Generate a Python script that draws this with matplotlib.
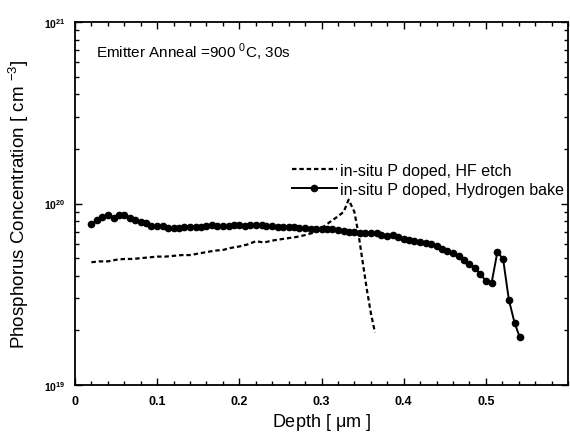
import matplotlib
matplotlib.use("Agg")
import matplotlib.pyplot as plt
from matplotlib.ticker import LogLocator, MultipleLocator, FixedLocator, NullFormatter

plt.rcParams['font.family'] = ['Liberation Sans', 'DejaVu Sans']
plt.rcParams['mathtext.fontset'] = 'custom'
plt.rcParams['mathtext.rm'] = 'Liberation Sans'
plt.rcParams['mathtext.bf'] = 'Liberation Sans:bold'

# Hydrogen bake (solid with markers), concentration in 1e19 cm^-3
h2_depth = [0.020, 0.027, 0.033, 0.040, 0.047, 0.053, 0.060, 0.067, 0.073, 0.080,
            0.087, 0.093, 0.100, 0.107, 0.113, 0.120, 0.127, 0.133, 0.140, 0.147,
            0.153, 0.160, 0.167, 0.173, 0.180, 0.187, 0.193, 0.200, 0.207, 0.213,
            0.220, 0.227, 0.233, 0.240, 0.247, 0.253, 0.260, 0.267, 0.273, 0.280,
            0.287, 0.293, 0.300, 0.307, 0.313, 0.320, 0.327, 0.333, 0.340, 0.347,
            0.353, 0.360, 0.367, 0.373, 0.380, 0.387, 0.393, 0.400, 0.407, 0.413,
            0.420, 0.427, 0.433, 0.440, 0.447, 0.453, 0.460, 0.467, 0.473, 0.480,
            0.487, 0.493, 0.500, 0.507, 0.514, 0.521, 0.528, 0.535, 0.541]
h2_conc = [7.7, 8.1, 8.4, 8.6, 8.3, 8.7, 8.6, 8.3, 8.1, 7.9,
           7.8, 7.5, 7.5, 7.5, 7.3, 7.35, 7.35, 7.4, 7.4, 7.4,
           7.45, 7.5, 7.6, 7.5, 7.5, 7.55, 7.6, 7.6, 7.55, 7.65,
           7.6, 7.6, 7.5, 7.5, 7.45, 7.4, 7.45, 7.4, 7.3, 7.3,
           7.2, 7.25, 7.2, 7.2, 7.25, 7.15, 7.05, 7.0, 6.95, 6.9,
           6.9, 6.85, 6.85, 6.7, 6.6, 6.7, 6.5, 6.4, 6.3, 6.2,
           6.15, 6.05, 5.95, 5.85, 5.6, 5.5, 5.35, 5.15, 4.9, 4.65,
           4.4, 4.1, 3.75, 3.65, 5.4, 4.95, 2.95, 2.2, 1.85]

# HF etch (dashed)
hf_depth = [0.020, 0.030, 0.040, 0.050, 0.060, 0.070, 0.080, 0.090, 0.100, 0.110,
            0.120, 0.130, 0.140, 0.150, 0.160, 0.170, 0.180, 0.190, 0.200, 0.210,
            0.220, 0.230, 0.240, 0.250, 0.260, 0.270, 0.280, 0.290, 0.300, 0.310,
            0.320, 0.327, 0.333, 0.340, 0.345, 0.350, 0.355, 0.360, 0.365]
hf_conc = [4.75, 4.8, 4.8, 4.9, 4.95, 4.95, 5.0, 5.05, 5.1, 5.1,
           5.15, 5.2, 5.2, 5.3, 5.4, 5.5, 5.55, 5.7, 5.8, 5.95,
           6.2, 6.1, 6.25, 6.35, 6.45, 6.55, 6.7, 6.9, 7.3, 7.9,
           8.5, 9.0, 10.5, 9.0, 6.8, 4.8, 3.4, 2.5, 1.95]

x_ticks = [0, 0.1, 0.2, 0.3, 0.4, 0.5]
x_ticklabels = ['0', '0.1', '0.2', '0.3', '0.4', '0.5']
y_ticks = [1e19, 1e20, 1e21]
y_ticklabels = [r'$\mathbf{10^{19}}$', r'$\mathbf{10^{20}}$', r'$\mathbf{10^{21}}$']

fig = plt.figure(figsize=(5.7, 4.35), dpi=100)
ax = fig.add_axes([0.1316, 0.1126, 0.8649, 0.8344])

ax.plot(hf_depth, [v * 1e19 for v in hf_conc], color='black', linestyle=(0, (2.0, 1.3)),
        linewidth=1.6, label='in-situ P doped, HF etch')
ax.plot(h2_depth, [v * 1e19 for v in h2_conc], color='black', linestyle='-',
        linewidth=1.4, marker='o', markersize=4.5, label='in-situ P doped, Hydrogen bake')

ax.set_yscale('log')
ax.set_xlim(0, 0.6)
ax.set_ylim(1e19, 1e21)

ax.xaxis.set_major_locator(FixedLocator(x_ticks))
ax.set_xticklabels(x_ticklabels, fontweight='bold', fontsize=9)
ax.xaxis.set_minor_locator(MultipleLocator(0.02))
ax.yaxis.set_major_locator(FixedLocator(y_ticks))
ax.set_yticklabels(y_ticklabels, fontsize=7.5)
ax.yaxis.set_minor_locator(LogLocator(base=10, subs=range(2, 10)))
ax.yaxis.set_minor_formatter(NullFormatter())

ax.tick_params(which='both', direction='in', top=True, right=True, width=1)
ax.tick_params(which='major', length=5, pad=7)
ax.tick_params(which='minor', length=3)
for s in ax.spines.values():
    s.set_linewidth(1.3)

ax.set_xlabel(r'Depth [ $\mathregular{\mu}$m ]', fontsize=13, labelpad=3)
ax.set_ylabel(r'Phosphorus Concentration [ cm $^{\mathregular{-3}}$]', fontsize=13.5, labelpad=9)

ax.text(0.043, 0.92, r'Emitter Anneal =900 $^{\mathregular{0}}$C, 30s', transform=ax.transAxes,
        fontsize=11, va='center', ha='left')

ax.legend(loc='upper left', bbox_to_anchor=(0.44, 0.613), frameon=False, fontsize=11.5,
          handlelength=2.8, handletextpad=0.2, labelspacing=0.25, borderaxespad=0,
          borderpad=0)

fig.savefig('out.png', dpi=100)
